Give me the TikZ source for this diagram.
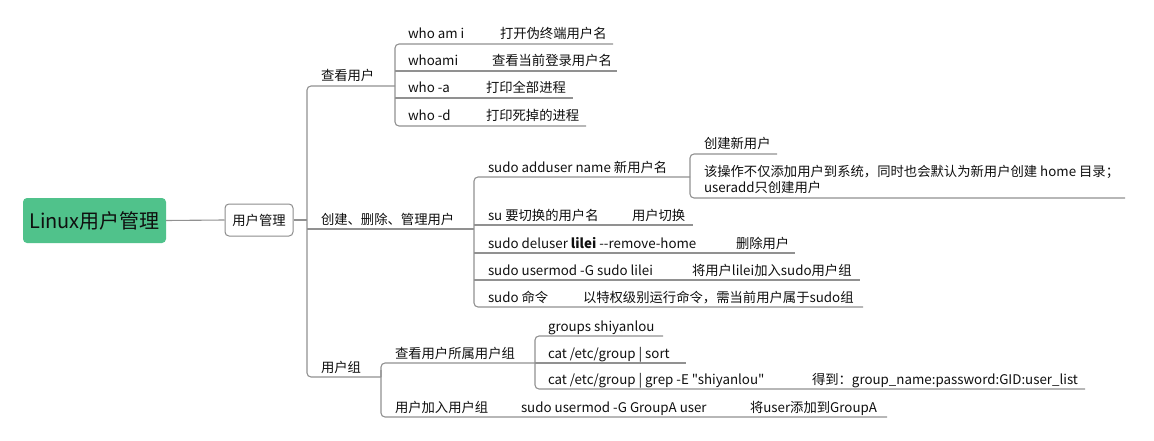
\documentclass[tikz,border=0pt]{standalone}
\usepackage{fontspec}
\newfontfamily\cjkf{Noto Sans CJK SC}
\definecolor{rootg}{RGB}{80,194,139}
\definecolor{linec}{RGB}{145,145,145}
\definecolor{boxc}{RGB}{140,140,140}
\definecolor{txtc}{RGB}{15,15,15}
\newcommand\fsn{\cjkf\fontsize{13.33}{16}\selectfont}
\begin{document}
\begin{tikzpicture}[x=1pt,y=-1pt,
  ln/.style={draw=linec, line width=1.1pt, rounded corners=4pt},
  tx/.style={anchor=base west, inner sep=0pt, outer sep=0pt, font=\fsn, text=txtc},
]
\useasboundingbox (0,0) rectangle (1154,441);
% root and first box
\node[fill=rootg, rounded corners=4pt, minimum width=143pt, minimum height=45pt, inner sep=0pt, text=txtc, font=\cjkf\fontsize{20}{24}\selectfont] (root) at (94.5,220.5) {Linux用户管理};
\node[draw=boxc, line width=1pt, fill=white, rounded corners=4pt, minimum width=68pt, minimum height=32pt, inner sep=0pt, text=txtc, font=\fsn] (mgr) at (259,220) {用户管理};
\draw[ln] (root.east) -- (mgr.west);
% trunk
\coordinate (tk) at (307,220);
\coordinate (b1) at (395,86);
\coordinate (b2) at (474,229);
\coordinate (b3) at (381,377);
\draw[ln] (mgr.east) -- (tk);
\draw[ln] (b1) -- (307,86) -- (307,377) -- (b3);
\draw[ln] (307,229) -- (b2);
% level 1 labels
\node[tx] (view) at (321,81) {查看用户};
\node[tx] (cdm) at (321,224) {创建、删除、管理用户};
\node[tx] (grp) at (321,372) {用户组};

% ---- 查看用户 children
\draw[ln] (613,44) -- (395,44) -- (395,126) -- (586,126);
\draw[ln] (395,71) -- (617,71);
\draw[ln] (395,98) -- (573,98);
\node[tx] (w1) at (408,39) {who am i};
\node[tx] (w1d) at (500,39) {打开伪终端用户名};
\node[tx] (w2) at (408,66) {whoami};
\node[tx] (w2d) at (492,66) {查看当前登录用户名};
\node[tx] (w3) at (408,93) {who -a};
\node[tx] (w3d) at (486,93) {打印全部进程};
\node[tx] (w4) at (408,121) {who -d};
\node[tx] (w4d) at (486,121) {打印死掉的进程};

% ---- 创建、删除、管理用户 children
\coordinate (b4) at (690,177);
\draw[ln] (b4) -- (474,177) -- (474,307) -- (863,307);
\draw[ln] (474,225) -- (693,225);
\draw[ln] (474,253) -- (795,253);
\draw[ln] (474,280) -- (860,280);
\node[tx] (add) at (488,172) {sudo adduser name 新用户名};
\node[tx] (su) at (488,220) {su 要切换的用户名};
\node[tx] (sud) at (632,220) {用户切换};
\node[tx] (del) at (488,248) {sudo deluser \textbf{lilei} --remove-home};
\node[tx] (deld) at (736,248) {删除用户};
\node[tx] (mod) at (488,275) {sudo usermod -G sudo lilei};
\node[tx] (modd) at (692,275) {将用户lilei加入sudo用户组};
\node[tx] (sudo) at (488,302) {sudo 命令};
\node[tx] (sudod) at (583,302) {以特权级别运行命令，需当前用户属于sudo组};
% adduser sub-bracket
\draw[ln] (777,154) -- (690,154) -- (690,198) -- (1125,198);
\node[tx] (newu) at (704,149) {创建新用户};
\node[tx] (long1) at (704,176) {该操作不仅添加用户到系统，同时也会默认为新用户创建 home 目录；};
\node[tx] (long2) at (704,193) {useradd只创建用户};

% ---- 用户组 children
\coordinate (b5) at (535,363);
\draw[ln] (b3) -- (381,363) -- (b5);
\draw[ln] (381,370) -- (381,417) -- (887,417);
\node[tx] (gview) at (395,358) {查看用户所属用户组};
\node[tx] (gadd) at (395,412) {用户加入用户组};
\node[tx] (gaddc) at (521,412) {sudo usermod -G GroupA user};
\node[tx] (gaddd) at (750,412) {将user添加到GroupA};
\draw[ln] (663,336) -- (535,336) -- (535,389) -- (1085,389);
\draw[ln] (b5) -- (686,363);
\node[tx] (g1) at (548,331) {groups shiyanlou};
\node[tx] (g2) at (548,358) {cat /etc/group | sort};
\node[tx] (g3) at (548,384) {cat /etc/group | grep -E "shiyanlou"};
\node[tx] (g3d) at (812,384) {得到：group\_name:password:GID:user\_list};
\end{tikzpicture}
\end{document}
